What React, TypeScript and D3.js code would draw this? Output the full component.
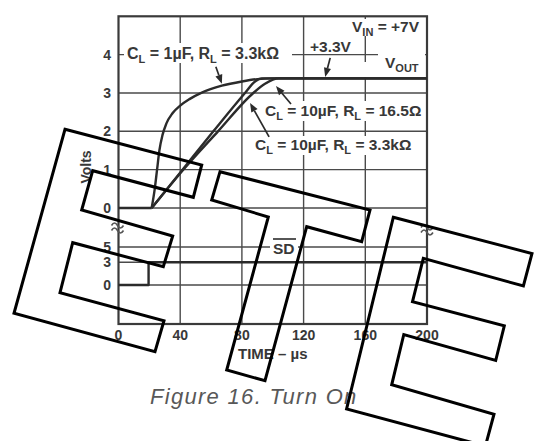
import React from 'react';
import * as d3 from 'd3';

// ---------- data ----------
const timeTicks = [0, 40, 80, 120, 160, 200];
const voltTicks = [0, 1, 2, 3, 4];
const sdTicks = [0, 3, 5];

// Vout before turn-on (shared by all traces)
const voutIdle: [number, number][] = [[0, 0], [21.5, 0]];
// C_L = 1uF, R_L = 3.3k
const vout1uF3k3: [number, number][] = [
  [21.5, 0], [23.5, 0.5], [25, 1.0], [26.5, 1.5], [28.5, 1.9], [31, 2.2], [35, 2.47],
  [40, 2.67], [46, 2.84], [54, 3.01], [67, 3.19], [80, 3.3], [90, 3.36], [100, 3.38], [200, 3.38],
];
// C_L = 10uF, R_L = 3.3k
const vout10uF3k3: [number, number][] = [
  [21.5, 0], [41.5, 1], [61.5, 2], [82, 3], [88.5, 3.3], [93, 3.38], [200, 3.38],
];
// C_L = 10uF, R_L = 16.5 ohm
const vout10uF16R5: [number, number][] = [
  [21.5, 0], [42, 1], [64.5, 2], [87.4, 3], [95, 3.24], [104, 3.38], [200, 3.38],
];
// SD-bar input
const sdSignal: [number, number][] = [[0, 0], [19.5, 0], [19.5, 3], [200, 3]];

// ---------- layout ----------
const W = 542;
const H = 441;
const FONT = "'Liberation Sans', Arial, Helvetica, sans-serif";
const TXT = '#383838';
const GRID = '#4a4a4a';
const INK = '#2b2b2b';

const x = d3.scaleLinear().domain([0, 200]).range([118.5, 427]);
const yTop = d3.scaleLinear().domain([0, 5]).range([208, 16.3]);
const yBot = d3.scaleLinear().domain([0, 5]).range([285, 247]);
const plotBottom = 324;

const lineTop = d3.line<[number, number]>().x(d => x(d[0])).y(d => yTop(d[1])).curve(d3.curveMonotoneX);
const lineTopLin = d3.line<[number, number]>().x(d => x(d[0])).y(d => yTop(d[1]));
const lineBot = d3.line<[number, number]>().x(d => x(d[0])).y(d => yBot(d[1]));

type Part = [string, boolean];

function SubText({ x0, y0, parts, size = 15.5, sub = 11 }: { x0: number; y0: number; parts: Part[]; size?: number; sub?: number }) {
  let prevSub = false;
  return (
    <text x={x0} y={y0} fontFamily={FONT} fontWeight="bold" fontSize={size} fill={TXT}>
      {parts.map((p, i) => {
        const dy = p[1] && !prevSub ? 4 : !p[1] && prevSub ? -4 : 0;
        prevSub = p[1];
        return (
          <tspan key={i} dy={dy} fontSize={p[1] ? sub : size}>
            {p[0]}
          </tspan>
        );
      })}
    </text>
  );
}

function Arrow({ tip, dx, dy }: { tip: [number, number]; dx: number; dy: number }) {
  const tx = x(tip[0]);
  const ty = yTop(tip[1]);
  const sx = tx + dx;
  const sy = ty + dy;
  const ang = Math.atan2(ty - sy, tx - sx);
  const L = 9;
  const hw = 3.6;
  const bx = tx - L * Math.cos(ang);
  const by = ty - L * Math.sin(ang);
  const p1 = [bx + hw * Math.sin(ang), by - hw * Math.cos(ang)];
  const p2 = [bx - hw * Math.sin(ang), by + hw * Math.cos(ang)];
  return (
    <g>
      <line x1={sx} y1={sy} x2={bx} y2={by} stroke={INK} strokeWidth={1.7} />
      <polygon points={`${tx},${ty} ${p1[0]},${p1[1]} ${p2[0]},${p2[1]}`} fill={INK} />
    </g>
  );
}

function BreakMark({ cx, cy }: { cx: number; cy: number }) {
  const wave = (yy: number) => `M${cx - 6},${yy + 1} q3,-5 6,0 t6,0`;
  return (
    <g fill="none" stroke="#555" strokeWidth={1.6}>
      <path d={wave(cy - 2.5)} />
      <path d={wave(cy + 2.5)} />
    </g>
  );
}

// watermark outlines (decoration)
const wmE1 = [[65, 129.3], [201.7, 165], [193.3, 197.3], [92.7, 170.7], [81.7, 210], [172.7, 236], [163.3, 266.7], [72.7, 242.7], [60, 292.7], [164, 320.7], [155, 351.7], [14, 313.3]];
const wmT = [[220, 171.7], [370, 210], [361.7, 241.7], [306.7, 226.7], [265, 380.7], [226.7, 370], [268.3, 217], [211.7, 200]];
const wmE2 = [[393.3, 217.3], [532, 253.5], [523.4, 286], [423.3, 258.3], [412.5, 301.6], [504.3, 325.9], [495.7, 360.5], [403.8, 334.5], [391.7, 384.8], [494, 414.2], [485.4, 446.1], [346.6, 409]];

export default function App() {
  const left = x(0);
  const right = x(200);
  const top = yTop(5);
  const bgRects = [
    [124, 43, 168, 20],
    [306, 39, 47, 14],
    [349, 19, 73, 17],
    [378, 51, 47, 25],
    [361, 62, 17, 15],
    [262, 101, 162, 20],
    [252, 136, 162, 19],
    [270, 236, 28, 21],
  ];
  return (
    <svg width={W} height={H} style={{ position: 'absolute', left: 0, top: 0, background: '#fff' }}>
      {/* grid */}
      <g stroke={GRID} strokeWidth={1.4} fill="none">
        {voltTicks.map(v => (
          <line key={'h' + v} x1={left} x2={right} y1={yTop(v)} y2={yTop(v)} />
        ))}
        {sdTicks.map(v => (
          <line key={'b' + v} x1={left} x2={right} y1={yBot(v)} y2={yBot(v)} />
        ))}
        {timeTicks.slice(1, -1).map(t => (
          <line key={'v' + t} x1={x(t)} x2={x(t)} y1={top} y2={plotBottom} />
        ))}
      </g>
      <rect x={left} y={top} width={right - left} height={plotBottom - top} fill="none" stroke="#3a3a3a" strokeWidth={2.2} />

      {/* label backgrounds */}
      {bgRects.map((r, i) => (
        <rect key={'bg' + i} x={r[0]} y={r[1]} width={r[2]} height={r[3]} fill="#fff" />
      ))}

      {/* traces */}
      <g fill="none" stroke={INK} strokeWidth={2.4} strokeLinejoin="round">
        <path d={lineTopLin(voutIdle) || ''} />
        <path d={lineTop(vout1uF3k3) || ''} />
        <path d={lineTop(vout10uF3k3) || ''} />
        <path d={lineTop(vout10uF16R5) || ''} />
        <path d={lineBot(sdSignal) || ''} />
      </g>

      {/* break marks */}
      <BreakMark cx={left - 1} cy={227} />
      <BreakMark cx={right} cy={229} />

      {/* y tick labels */}
      {voltTicks.map(v => (
        <text key={'yl' + v} x={111} y={yTop(v) + 5} textAnchor="end" fontFamily={FONT} fontWeight="bold" fontSize={14} fill={TXT}>{v}</text>
      ))}
      {sdTicks.map(v => (
        <text key={'sl' + v} x={111} y={yBot(v) + 5} textAnchor="end" fontFamily={FONT} fontWeight="bold" fontSize={14} fill={TXT}>{v}</text>
      ))}
      <text transform="translate(91,167) rotate(-90)" textAnchor="middle" fontFamily={FONT} fontWeight="bold" fontSize={14} fill={TXT}>Volts</text>

      {/* x tick labels */}
      {timeTicks.map(t => (
        <text key={'xl' + t} x={x(t)} y={340} textAnchor="middle" fontFamily={FONT} fontWeight="bold" fontSize={14} fill={TXT}>{t}</text>
      ))}
      <text x={x(100)} y={359} textAnchor="middle" fontFamily={FONT} fontWeight="bold" fontSize={15} fill={TXT}>TIME – µs</text>

      {/* annotations */}
      <SubText x0={127} y0={59} size={16} parts={[['C', false], ['L', true], [' = 1µF, R', false], ['L', true], [' = 3.3kΩ', false]]} />
      <SubText x0={310} y0={52} parts={[['+3.3V', false]]} />
      <SubText x0={352} y0={32} parts={[['V', false], ['IN', true], [' = +7V', false]]} />
      <SubText x0={385} y0={68} parts={[['V', false], ['OUT', true]]} />
      <SubText x0={265} y0={116} parts={[['C', false], ['L', true], [' = 10µF, R', false], ['L', true], [' = 16.5Ω', false]]} />
      <SubText x0={255} y0={150} parts={[['C', false], ['L', true], [' = 10µF, R', false], ['L', true], [' = 3.3kΩ', false]]} />
      <SubText x0={273} y0={254} parts={[['SD', false]]} />
      <line x1={273} x2={296} y1={239} y2={239} stroke={TXT} strokeWidth={1.7} />

      <Arrow tip={[67, 3.24]} dx={-6} dy={-17} />
      <Arrow tip={[134, 3.42]} dx={5} dy={-19} />
      <Arrow tip={[102.1, 3.18]} dx={15} dy={18} />
      <Arrow tip={[85.3, 2.74]} dx={19} dy={34} />

      {/* caption */}
      <text x={150} y={404} fontFamily={FONT} fontStyle="italic" fontSize={22} letterSpacing={1.3} fill="#585858">Figure 16.  Turn On</text>

      {/* watermark */}
      <g fill="none" stroke="#000" strokeWidth={3} strokeLinejoin="miter">
        {[wmE1, wmT, wmE2].map((pts, i) => (
          <polygon key={'wm' + i} points={pts.map(p => p.join(',')).join(' ')} />
        ))}
      </g>
    </svg>
  );
}
